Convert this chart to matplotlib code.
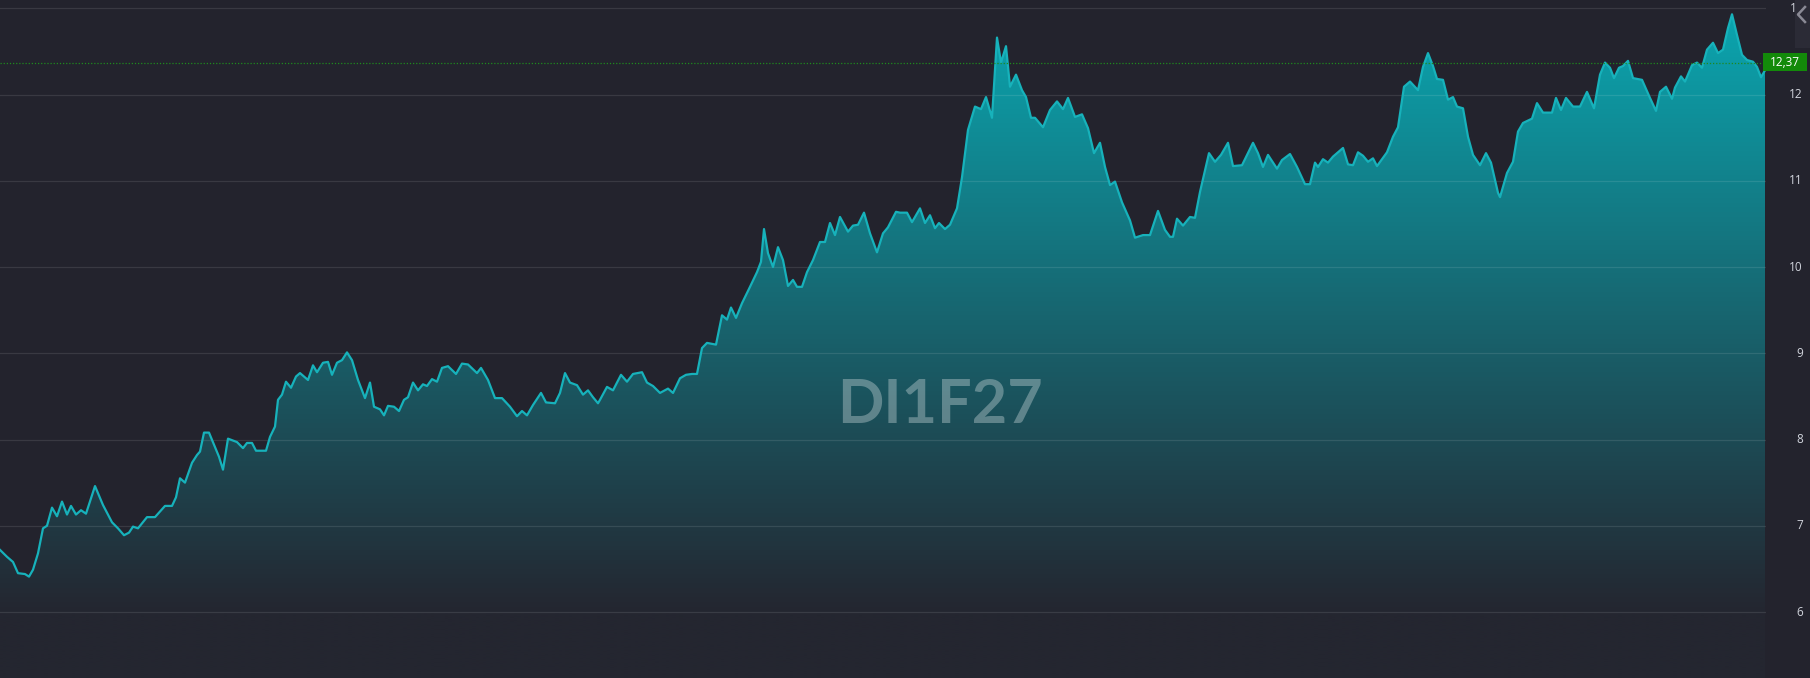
import numpy as np
import matplotlib
matplotlib.use("Agg")
import matplotlib.pyplot as plt
from matplotlib.patches import Rectangle
from matplotlib.lines import Line2D

# ---- data (session index, rate %) ----
sessions = [0, 7, 13, 18, 25, 29, 33, 38, 43, 47, 52, 57, 62, 67, 71, 76, 81, 86, 95, 103,
            112, 118, 124, 129, 133, 138, 147, 155, 165, 172, 176, 180, 185, 192, 197, 200, 204, 209, 215, 219,
            223, 228, 237, 243, 247, 252, 256, 266, 270, 275, 278, 282, 286, 291, 296,
            300, 308, 313, 317, 323, 328, 332, 337, 342, 347, 352, 358, 365, 370, 374, 380, 384, 388, 394, 399,
            404, 408, 413, 418, 423, 427, 432, 437, 442, 448, 456, 462, 468, 477, 481, 488, 495, 502, 510, 517,
            522, 527, 533, 541, 546, 555, 560, 565, 570, 577, 583, 588, 593, 598,
            600, 607, 613, 621, 627, 633, 642, 647, 653, 660, 668, 673, 680, 686, 692, 697, 702, 707, 716, 722,
            727, 731, 736, 742, 750, 757, 761, 764, 768, 773, 778, 783, 788, 793, 797, 802, 807, 813, 820, 825,
            830, 835, 840, 848, 853, 858, 864, 870, 877, 883, 888, 896, 900,
            907, 912, 920, 925, 930, 935, 939, 945, 950, 957, 962, 968, 975, 981, 986, 992, 997, 1001, 1006, 1010,
            1016, 1022, 1026, 1031, 1035, 1043, 1050, 1057, 1063, 1068, 1075, 1082, 1088, 1094, 1100, 1105, 1110,
            1115, 1122, 1130, 1135, 1143, 1150, 1158, 1165, 1170, 1173, 1177, 1183, 1190, 1195, 1200,
            1209, 1215, 1221, 1228, 1233, 1242, 1253, 1258, 1263, 1268, 1277, 1282, 1290, 1297, 1305, 1310, 1315,
            1318, 1323, 1328, 1333, 1343, 1348, 1353, 1358, 1363, 1368, 1373, 1377, 1387, 1393, 1398, 1404, 1410,
            1418, 1423, 1428, 1433, 1437, 1443, 1448, 1453, 1457, 1463, 1468, 1473, 1480, 1486, 1491, 1498,
            1500, 1507, 1513, 1518, 1523, 1532, 1537, 1543, 1552, 1556, 1561, 1566, 1573, 1580, 1587, 1594, 1600,
            1605, 1610, 1614, 1619, 1623, 1628, 1633, 1642, 1650, 1656, 1660, 1666, 1672, 1675, 1681, 1685, 1692,
            1697, 1702, 1707, 1713, 1718, 1723, 1728, 1732, 1737, 1742, 1747, 1753, 1757, 1761, 1765]

rates = [6.72, 6.64, 6.58, 6.45, 6.44, 6.41, 6.49, 6.68, 6.97, 7.00, 7.21, 7.11, 7.28, 7.13, 7.23, 7.13, 7.18, 7.14, 7.46, 7.24,
         7.04, 6.97, 6.89, 6.92, 6.99, 6.97, 7.10, 7.10, 7.23, 7.23, 7.33, 7.55, 7.50, 7.73, 7.82, 7.86, 8.08, 8.08, 7.91, 7.80,
         7.65, 8.01, 7.97, 7.90, 7.96, 7.96, 7.87, 7.87, 8.03, 8.15, 8.46, 8.52, 8.67, 8.60, 8.73,
         8.77, 8.69, 8.86, 8.78, 8.89, 8.90, 8.75, 8.89, 8.92, 9.01, 8.92, 8.69, 8.48, 8.66, 8.38, 8.35, 8.28, 8.39, 8.38, 8.33,
         8.46, 8.49, 8.66, 8.57, 8.64, 8.62, 8.70, 8.67, 8.83, 8.85, 8.76, 8.88, 8.87, 8.77, 8.83, 8.69, 8.48, 8.48, 8.38, 8.27,
         8.33, 8.28, 8.40, 8.54, 8.43, 8.42, 8.54, 8.77, 8.66, 8.63, 8.52, 8.57, 8.49, 8.42,
         8.46, 8.61, 8.57, 8.75, 8.67, 8.76, 8.78, 8.66, 8.62, 8.54, 8.59, 8.54, 8.71, 8.75, 8.76, 8.76, 9.06, 9.12, 9.10, 9.44,
         9.39, 9.53, 9.41, 9.58, 9.77, 9.94, 10.06, 10.44, 10.16, 10.00, 10.23, 10.08, 9.78, 9.85, 9.77, 9.77, 9.94, 10.08, 10.29, 10.29,
         10.51, 10.37, 10.58, 10.41, 10.48, 10.49, 10.63, 10.39, 10.17, 10.39, 10.46, 10.64, 10.63,
         10.63, 10.52, 10.68, 10.51, 10.60, 10.45, 10.51, 10.44, 10.49, 10.68, 11.04, 11.59, 11.86, 11.83, 11.97, 11.73, 12.66, 12.37, 12.56, 12.09,
         12.23, 12.05, 11.97, 11.73, 11.73, 11.62, 11.82, 11.92, 11.83, 11.96, 11.74, 11.77, 11.61, 11.32, 11.44, 11.16, 10.95,
         10.99, 10.75, 10.54, 10.34, 10.37, 10.37, 10.65, 10.43, 10.35, 10.35, 10.56, 10.48, 10.58, 10.57, 10.87,
         11.32, 11.22, 11.30, 11.44, 11.17, 11.18, 11.44, 11.32, 11.16, 11.30, 11.14, 11.24, 11.31, 11.16, 10.96, 10.96, 11.21,
         11.16, 11.25, 11.21, 11.28, 11.38, 11.19, 11.18, 11.33, 11.29, 11.22, 11.26, 11.17, 11.33, 11.51, 11.62, 12.09, 12.15,
         12.05, 12.32, 12.48, 12.33, 12.18, 12.17, 11.94, 11.97, 11.86, 11.84, 11.51, 11.30, 11.18, 11.32, 11.21, 10.86,
         10.81, 11.09, 11.22, 11.57, 11.67, 11.72, 11.90, 11.79, 11.79, 11.96, 11.82, 11.96, 11.86, 11.86, 12.03, 11.84, 12.23,
         12.37, 12.31, 12.19, 12.31, 12.33, 12.39, 12.19, 12.17, 11.96, 11.81, 12.03, 12.09, 11.95, 12.08, 12.21, 12.15, 12.34,
         12.37, 12.31, 12.52, 12.60, 12.48, 12.52, 12.77, 12.93, 12.69, 12.46, 12.40, 12.38, 12.32, 12.20, 12.28]

last_price = 12.37
last_label = "12,37"
ticker = "DI1F27"
y_ticks = [6, 7, 8, 9, 10, 11, 12, 13]

# ---- style ----
W, H = 1810, 678
BG = "#23232d"
LINE = "#17b2bb"
TOP_FILL = np.array([10, 168, 178]) / 255
BOT_FILL = np.array([36, 38, 48]) / 255

fig = plt.figure(figsize=(W / 100, H / 100), dpi=100, facecolor=BG)
plot_w = 1766 / W
ax = fig.add_axes([0, 0, plot_w, 1])
ax.set_facecolor(BG)

y_top = 13 + 8.25 / 86.25
y_bot = 6 - 66 / 86.25
ax.set_ylim(y_bot, y_top)
ax.set_xlim(0, 1766)

# gradient fill under the curve
n = 400
ys = np.linspace(y_bot, y_top, n)
frac = np.clip((ys - 6.0) / (y_top - 6.0), 0, 1)
cols = BOT_FILL[None, :] * (1 - frac[:, None]) + TOP_FILL[None, :] * frac[:, None]
grad = np.repeat(cols[:, None, :], 2, axis=1)
poly = ax.fill_between(sessions, rates, y_bot, color="none", lw=0)
im = ax.imshow(grad, extent=[0, 1766, y_bot, y_top], origin="lower", aspect="auto", zorder=1,
               interpolation="bilinear")
im.set_clip_path(poly.get_paths()[0], transform=ax.transData)

ax.plot(sessions, rates, color=LINE, lw=1.6, zorder=3, solid_joinstyle="round")

# grid
for yv in y_ticks:
    ax.axhline(yv, color="white", alpha=0.1, lw=0.9, zorder=2)

# price line
ax.axhline(last_price, color="#1f8a1f", lw=0.9, ls=(0, (1, 1.5)), zorder=4)

ax.set_xticks([])
ax.set_yticks([])
for s in ax.spines.values():
    s.set_visible(False)

# watermark
fig.text(940 / W, 1 - 405 / H, ticker, color="white", alpha=0.3, fontsize=44, fontweight="bold",
         family="Lato", ha="center", va="center", zorder=5)

# y tick labels on right axis
for yv in y_ticks:
    ypix = 8.25 + (13 - yv) * 86.25
    fig.text(1803 / W, 1 - ypix / H, str(yv), color="#d1d4dc", fontsize=8.5, family="Open Sans",
             ha="right", va="center")

# top-right button
fig.patches.append(Rectangle((1795 / W, 1 - 48 / H), 15 / W, 48 / H, transform=fig.transFigure,
                             facecolor="#2b2b36", edgecolor="none", zorder=10))
fig.lines.append(Line2D([1805 / W, 1798 / W, 1805 / W], [1 - 7 / H, 1 - 14.5 / H, 1 - 22 / H],
                        transform=fig.transFigure, color="#8a8a95", lw=1.8, zorder=11))

# price label
fig.patches.append(Rectangle((1763 / W, 1 - 71 / H), 44 / W, 18 / H, transform=fig.transFigure,
                             facecolor="#138a0a", edgecolor="none", zorder=12))
fig.text(1785 / W, 1 - 62.5 / H, last_label, color="white", fontsize=8.5, family="Open Sans",
         ha="center", va="center", zorder=13)

fig.savefig("out.png", dpi=100, facecolor=BG)
